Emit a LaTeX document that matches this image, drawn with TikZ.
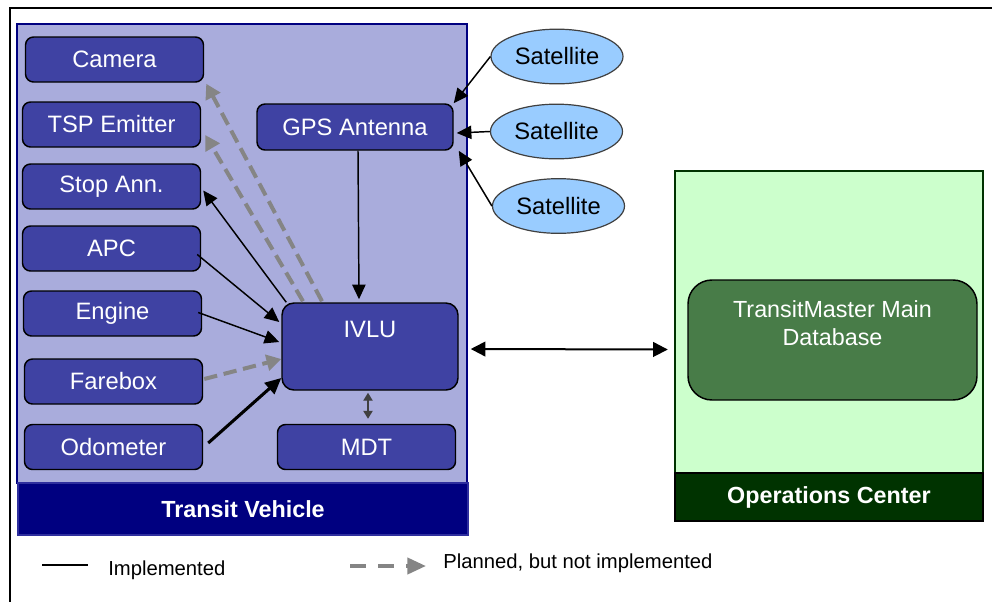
\documentclass[tikz,border=0pt]{standalone}
\usepackage{fontspec}
\setmainfont{Liberation Sans}
\usetikzlibrary{arrows.meta,shapes.geometric,calc}
\definecolor{vehbg}{HTML}{A9ACDC}
\definecolor{vboxc}{HTML}{3F42A3}
\definecolor{navyc}{HTML}{000080}
\definecolor{bandedge}{HTML}{2E2E9E}
\definecolor{satc}{HTML}{99CCFF}
\definecolor{greenbg}{HTML}{CCFFCC}
\definecolor{opsc}{HTML}{003300}
\definecolor{dbc}{HTML}{487C48}
\definecolor{plangray}{HTML}{858585}
\definecolor{mdtgray}{HTML}{404040}
\begin{document}
\begin{tikzpicture}[x=0.75pt,y=-0.75pt,
  mainfont/.style={font=\fontsize{17.8}{21}\selectfont},
  vbox/.style={draw=black, line width=1.1pt, fill=vboxc, rounded corners=6pt,
    minimum width=133.5pt, minimum height=33.75pt, inner sep=0pt, text=white, mainfont},
  sat/.style={ellipse, draw=black!75, line width=0.9pt, fill=satc,
    minimum width=99pt, minimum height=41pt, inner sep=0pt, mainfont},
  band/.style={inner sep=0pt, text=white, font=\fontsize{17.5}{21}\selectfont\bfseries},
  imp/.style={line width=1.1pt, -{Triangle[length=11pt,width=10pt]}},
  impthick/.style={line width=2.3pt, -{Triangle[length=12pt,width=11pt]}},
  plan/.style={line width=3pt, plangray, dash pattern=on 10pt off 5pt,
    -{Triangle[length=11pt,width=12pt]}},
  legfont/.style={font=\fontsize{15.2}{18}\selectfont}
]
\useasboundingbox (0,0) rectangle (992,601);
\clip (0,0) rectangle (992,601);
\fill[white] (0,0) rectangle (992,601);
% outer frame
\draw[line width=1.2pt] (10,8) rectangle (1020,640);

% Transit vehicle area
\node[draw=navyc, line width=1.6pt, fill=vehbg, minimum width=337.5pt, minimum height=344.25pt,
  inner sep=0pt] (vehicle) at (242,253.5) {};
\node[band, draw=bandedge, line width=1pt, fill=navyc, minimum width=337.5pt, minimum height=39pt]
  (vband) at (243,509) {Transit Vehicle};

% Operations center
\node[draw=opsc, line width=1.8pt, fill=greenbg, minimum width=231pt, minimum height=226.5pt,
  inner sep=0pt] (green) at (829,322) {};
\node[band, draw=black, line width=1.2pt, fill=opsc, minimum width=231pt, minimum height=36pt]
  (oband) at (829,497) {Operations Center};
\node[draw=black, line width=1.1pt, fill=dbc, rounded corners=18pt, minimum width=216.75pt,
  minimum height=90pt, inner sep=0pt] (db) at (832.5,340) {};
\node[text=white, align=center, inner sep=0pt, font=\fontsize{17.5}{20.5}\selectfont]
  (dbtext) at (832.5,323) {TransitMaster Main\\Database};

% left column boxes
\node[vbox] (camera) at (114.5,59.5) {Camera};
\node[vbox] (tsp) at (111.5,124.5) {TSP Emitter};
\node[vbox] (stop) at (111.5,186.5) {Stop Ann.};
\node[vbox] (apc) at (111.5,248.5) {APC};
\node[vbox] (engine) at (112.5,313.5) {Engine};
\node[vbox] (farebox) at (113.5,381.5) {Farebox};
\node[vbox] (odo) at (113.5,447) {Odometer};

% GPS, IVLU, MDT
\node[vbox, minimum width=147pt, minimum height=34.5pt] (gps) at (355,127) {GPS Antenna};
\node[vbox, rounded corners=9pt, minimum width=132pt, minimum height=65.25pt] (ivlu) at (370,346.5) {};
\node[text=white, inner sep=0pt, mainfont] (ivlutext) at (370,329) {IVLU};
\node[vbox] (mdt) at (366.5,447) {MDT};

% satellites
\node[sat] (sat1) at (557,56.5) {Satellite};
\node[sat] (sat2) at (556.5,131.5) {Satellite};
\node[sat] (sat3) at (558.5,206) {Satellite};

% satellite links
\draw[imp] (sat1.west) -- (gps.north east);
\draw[imp] (sat2.west) -- ($(gps.east)+(3,6)$);
\draw[imp] (sat3.west) -- ($(gps.south east)+(5,0)$);

% GPS to IVLU
\draw[imp] ($(gps.south)+(3,0)$) -- ($(ivlu.north)+(-11,-3)$);

% planned links
\draw[plan] ($(ivlu.north)+(-48,-1)$) -- ($(camera.south east)+(2,1)$);
\draw[plan] ($(ivlu.north)+(-67,-1)$) -- ($(tsp.east)+(4,10.5)$);
\draw[plan] ($(farebox.east)+(1,-2.5)$) -- ($(ivlu.west)+(0,12.5)$);

% implemented links
\draw[imp] ($(ivlu.north west)+(5,0)$) -- ($(stop.east)+(2,4)$);
\draw[imp] ($(apc.east)+(-4,6)$) -- ($(ivlu.west)+(-2,-24.5)$);
\draw[imp] ($(engine.east)+(-4,-1)$) -- ($(ivlu.west)+(-2,-4.5)$);
\draw[impthick] ($(odo.east)+(5,-4)$) -- ($(ivlu.west)+(0,31.5)$);

% IVLU - MDT
\draw[mdtgray, line width=1.1pt, {Triangle[length=6pt,width=7pt]}-{Triangle[length=6pt,width=7pt]}]
  ($(ivlu.south)+(-2,2)$) -- ($(mdt.north)+(1.5,-5)$);

% IVLU - Database
\draw[line width=1.5pt, {Triangle[length=11pt,width=11pt]}-{Triangle[length=11pt,width=11pt]}]
  ($(ivlu.east)+(12,2.5)$) -- ($(green.west)+(-6,27.5)$);

% legend
\coordinate (limpA) at (42,565);
\coordinate (limpB) at (88,565);
\draw[line width=1.2pt] (limpA) -- (limpB);
\node[legfont, anchor=west, inner sep=0pt] (limptext) at (108,570) {Implemented};
\coordinate (lplanA) at (350,566);
\coordinate (lplanB) at (426,566);
\draw[line width=3pt, plangray, dash pattern=on 12pt off 9pt,
  -{Triangle[length=14pt,width=12pt]}] (lplanA) -- (lplanB);
\node[legfont, anchor=west, inner sep=0pt] (lplantext) at (443,563) {Planned, but not implemented};
\end{tikzpicture}
\end{document}
